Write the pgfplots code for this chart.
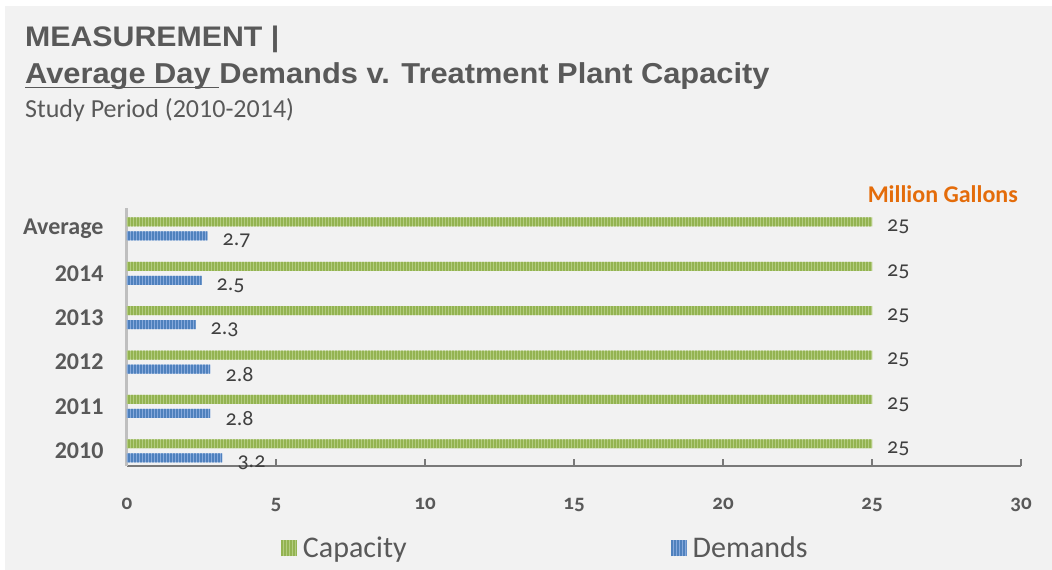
\documentclass[border=0pt]{standalone}
\usepackage{pgfplots}
\pgfplotsset{compat=1.18}
\usetikzlibrary{patterns,patterns.meta}
\usepackage{fontspec}
\setmainfont{Carlito}
\newfontfamily\arialf[FakeStretch=1.07]{Liberation Sans}
\newfontfamily\oldnum[Numbers=OldStyle]{Carlito}
\definecolor{bg}{HTML}{F2F2F2}
\definecolor{txt}{HTML}{595959}
\definecolor{lbl}{HTML}{404040}
\definecolor{gfill}{HTML}{B3CC80}
\definecolor{gstripe}{HTML}{93B351}
\definecolor{bfill}{HTML}{86A9DC}
\definecolor{bstripe}{HTML}{4F81BD}
\definecolor{orng}{HTML}{E46C0A}
\newcommand\ulbox[1]{\setbox0\hbox{#1}\rlap{\rule[-4.5pt]{\wd0}{1.8pt}}\box0}
\pgfplotstableread{
y cap dem
0 25 3.2
1 25 2.8
2 25 2.8
3 25 2.3
4 25 2.5
5 25 2.7
}\datatable
\begin{document}
\begin{tikzpicture}[x=1pt,y=1pt]
\fill[white] (0,0) rectangle (1052,570);
\fill[bg] (5,0) rectangle (1052,564);
\node[anchor=base west, font=\arialf\bfseries\fontsize{28.3}{30}\selectfont, text=txt, inner sep=0] at (25,523) {MEASUREMENT |};
\node[anchor=base west, font=\arialf\bfseries\fontsize{28.8}{30}\selectfont, text=txt, inner sep=0] at (25,486) {\ulbox{Average Day }Demands v. Treatment Plant Capacity};
\node[anchor=base west, font=\fontsize{26}{28}\selectfont, text=txt, inner sep=0] at (25,452) {Study Period (2010-2014)};
\node[anchor=base east, font=\bfseries\fontsize{24}{26}\selectfont, text=orng, inner sep=0] at (1018,367) {Million Gallons};
\begin{axis}[
  at={(127pt,104pt)}, anchor=south west,
  scale only axis, width=894pt, height=258pt,
  xbar, bar width=9pt,
  xmin=0, xmax=30, ymin=-0.34, ymax=5.47,
  xtick={0,5,...,30},
  ytick={0,1,2,3,4,5},
  yticklabels={2010,2011,2012,2013,2014,Average},
  /pgf/number format/assume math mode=true,
  axis x line*=bottom, axis y line*=left,
  x axis line style={draw=gray!95!black, line width=1.6pt},
  y axis line style={draw=black!25, line width=3pt},
  x tick style={draw=gray!95!black, line width=1.2pt},
  major tick length=7pt,
  ytick style={draw=none},
  xticklabel style={font=\oldnum\bfseries\fontsize{21}{24}\selectfont, text=txt, yshift=-29pt},
  yticklabel style={font=\bfseries\fontsize{24}{26}\selectfont, text=txt, xshift=-13pt},
  nodes near coords,
  every node near coord/.append style={font=\oldnum\fontsize{22}{24}\selectfont, text=lbl, anchor=west, inner sep=0pt, xshift=15pt, yshift=-5pt},
  legend columns=2,
  legend style={at={(axis description cs:0.172,-0.318)}, anchor=west, draw=none, fill=none, inner sep=0pt,
    font=\fontsize{30}{32}\selectfont, text=txt,
    nodes={inner sep=3pt},
    /tikz/every even column/.append style={column sep=261pt}},
  legend image code/.code={\path[#1, draw=none] (0pt,-8pt) rectangle (16pt,8pt);},
]
\addplot[draw=none, fill=gfill, bar shift=7pt,
  postaction={pattern={Lines[angle=90,distance=3pt,line width=1.1pt]}, pattern color=gstripe}]
  table[x=cap, y=y] {\datatable};
\addlegendentry{\hspace{3pt}Capacity}
\addplot[draw=none, fill=bfill, bar shift=-7pt,
  postaction={pattern={Lines[angle=90,distance=3pt,line width=1.5pt]}, pattern color=bstripe}]
  table[x=dem, y=y] {\datatable};
\addlegendentry{\hspace{3pt}Demands}
\end{axis}
\end{tikzpicture}
\end{document}
